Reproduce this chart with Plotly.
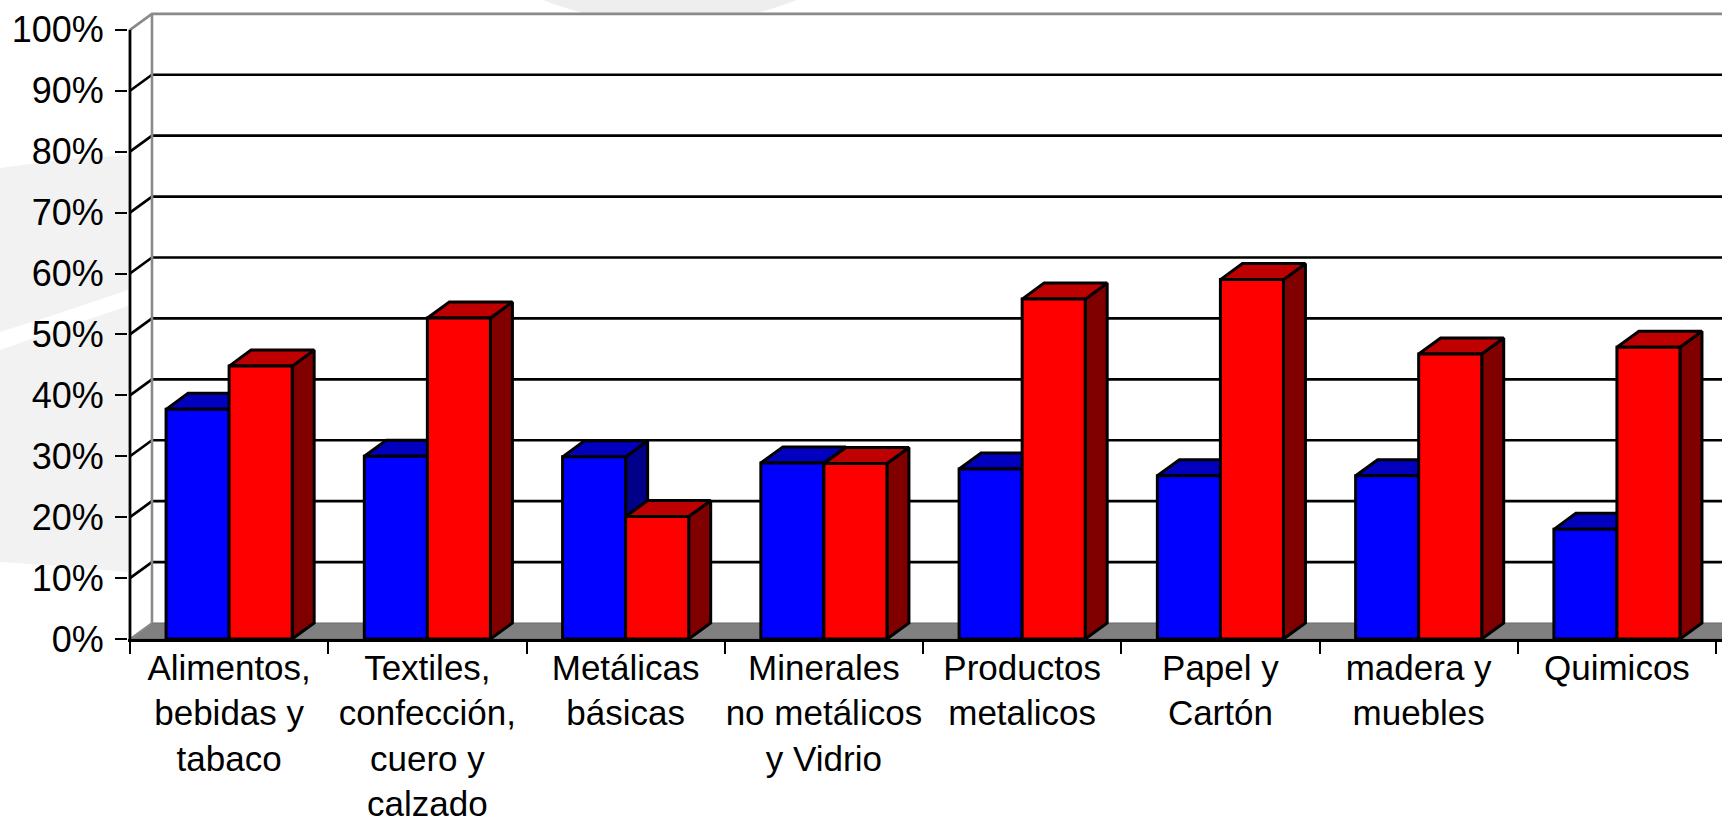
import plotly.graph_objects as go

# ---------------- data ----------------
categories = [
    "Alimentos,<br>bebidas y<br>tabaco",
    "Textiles,<br>confección,<br>cuero y<br>calzado",
    "Metálicas<br>básicas",
    "Minerales<br>no metálicos<br>y Vidrio",
    "Productos<br>metalicos",
    "Papel y<br>Cartón",
    "madera y<br>muebles",
    "Quimicos",
]
serie_azul = [37.7, 30.0, 29.9, 28.9, 27.9, 26.8, 26.8, 18.0]
serie_roja = [44.8, 52.7, 20.1, 28.8, 55.8, 59.0, 46.8, 47.9]
y_ticks = [0, 10, 20, 30, 40, 50, 60, 70, 80, 90, 100]
y_tick_labels = [f"{v}%" for v in y_ticks]

# ---------------- layout geometry ----------------
FIG_W, FIG_H = 1722, 824
M_L, M_R, M_T, M_B = 128, 0, 0, 185
X_MIN, X_MAX = -0.51, 7.53
Y_MIN, Y_MAX = 0, 104.9
PLOT_W = FIG_W - M_L - M_R
PLOT_H = FIG_H - M_T - M_B
PX_X = PLOT_W / (X_MAX - X_MIN)
PX_Y = PLOT_H / (Y_MAX - Y_MIN)
DX = 22 / PX_X          # depth offset (data units)
DY = 16 / PX_Y
BW = 0.318              # bar width (category units)
XL = -0.5               # front-left corner
XR = X_MAX + DX + 0.2   # beyond right edge

FONT = "Liberation Sans, Arial, sans-serif"

BLUE = ("#0000FF", "#0000BE", "#000088")    # front, top, side
RED = ("#FF0000", "#BE0000", "#800000")

fig = go.Figure()


def poly(xs, ys, fill, line_color="black", line_width=3.0):
    fig.add_trace(go.Scatter(
        x=xs + [xs[0]], y=ys + [ys[0]], mode="lines", fill="toself",
        fillcolor=fill, line=dict(color=line_color, width=line_width),
        hoverinfo="skip", showlegend=False))


def lines(xs, ys, color, width):
    fig.add_trace(go.Scatter(
        x=xs, y=ys, mode="lines", line=dict(color=color, width=width),
        hoverinfo="skip", showlegend=False))


# back wall + side wall (white)
poly([XL, XL, XL + DX, XR, XR], [0, 100, 100 + DY, 100 + DY, 0], "white",
     line_color="rgba(0,0,0,0)", line_width=0)

# floor
poly([XL, XL + DX, XR, XR], [0, DY, DY, 0], "#808080",
     line_color="#6a6a6a", line_width=1.2)

# gridlines on back wall with connectors from front axis
gx, gy = [], []
for v in y_ticks[1:-1]:
    gx += [XL, XL + DX, XR, None]
    gy += [v, v + DY, v + DY, None]
lines(gx, gy, "black", 2.7)

# wall edges (gray)
lines([XL, XL + DX, XR], [100, 100 + DY, 100 + DY], "#8a8a8a", 2.6)
lines([XL + DX, XL + DX], [DY, 100 + DY], "#8a8a8a", 2.6)
lines([XL, XL + DX], [0, DY], "#8a8a8a", 2.0)

# front value axis line
lines([XL, XL], [0, 100], "black", 2.8)


def bar3d(x0, h, colors):
    front, top, side = colors
    x1 = x0 + BW
    poly([x1, x1 + DX, x1 + DX, x1], [0, DY, h + DY, h], side)
    poly([x0, x0 + DX, x1 + DX, x1], [h, h + DY, h + DY, h], top)
    poly([x0, x0, x1, x1], [0, h, h, 0], front)


for i in range(len(categories)):
    bar3d(i - BW, serie_azul[i], BLUE)
    bar3d(i, serie_roja[i], RED)


# ---------------- background watermark (decoration) ----------------
def px2paper(px, py):
    return (px - M_L) / PLOT_W, (FIG_H - M_B - py) / PLOT_H


def path_from(points):
    parts = []
    for k, (px, py) in enumerate(points):
        x, y = px2paper(px, py)
        parts.append(("M" if k == 0 else "L") + f"{x:.5f},{y:.5f}")
    return " ".join(parts) + " Z"


shapes = [
    dict(type="path", xref="paper", yref="paper", layer="below",
         path=path_from([(0, 168), (60, 160), (128, 155), (128, 290), (60, 313), (0, 332)]),
         fillcolor="#f2f2f2", line=dict(width=0)),
    dict(type="path", xref="paper", yref="paper", layer="below",
         path=path_from([(0, 350), (60, 329), (128, 306), (128, 572), (60, 566), (0, 562)]),
         fillcolor="#f2f2f2", line=dict(width=0)),
]
cx0, cy0 = px2paper(330, -640)
cx1, cy1 = px2paper(1010, 24)
shapes.append(dict(type="circle", xref="paper", yref="paper", layer="below",
                   x0=cx0, x1=cx1, y0=cy0, y1=cy1,
                   fillcolor="#eeeeee", line=dict(width=0)))

fig.update_layout(
    width=FIG_W, height=FIG_H,
    margin=dict(l=M_L, r=M_R, t=M_T, b=M_B, pad=0),
    template="none",
    paper_bgcolor="white",
    plot_bgcolor="rgba(0,0,0,0)",
    showlegend=False,
    shapes=shapes,
    font=dict(family=FONT, color="black"),
    xaxis=dict(
        range=[X_MIN, X_MAX], tickmode="array",
        tickvals=list(range(len(categories))), ticktext=categories,
        ticks="", showgrid=False, zeroline=False,
        showline=True, linecolor="black", linewidth=2.8,
        tickfont=dict(size=35, family=FONT, color="black"),
        ticklabelstandoff=-4,
        minor=dict(tickmode="linear", tick0=-0.5, dtick=1, ticks="outside",
                   ticklen=12, tickwidth=2, tickcolor="black", showgrid=False),
        automargin=False, fixedrange=True,
    ),
    yaxis=dict(
        range=[Y_MIN, Y_MAX], tickmode="array",
        tickvals=y_ticks, ticktext=y_tick_labels,
        ticks="outside", ticklen=12, tickwidth=2.2, tickcolor="black",
        showgrid=False, zeroline=False, showline=False,
        tickfont=dict(size=36, family=FONT, color="black"),
        ticklabelstandoff=4,
        automargin=False, fixedrange=True,
    ),
)

fig.write_html(
    "out.html",
    config={"displayModeBar": False},
    post_script="document.body.style.margin='0';document.body.style.overflow='hidden';",
)
